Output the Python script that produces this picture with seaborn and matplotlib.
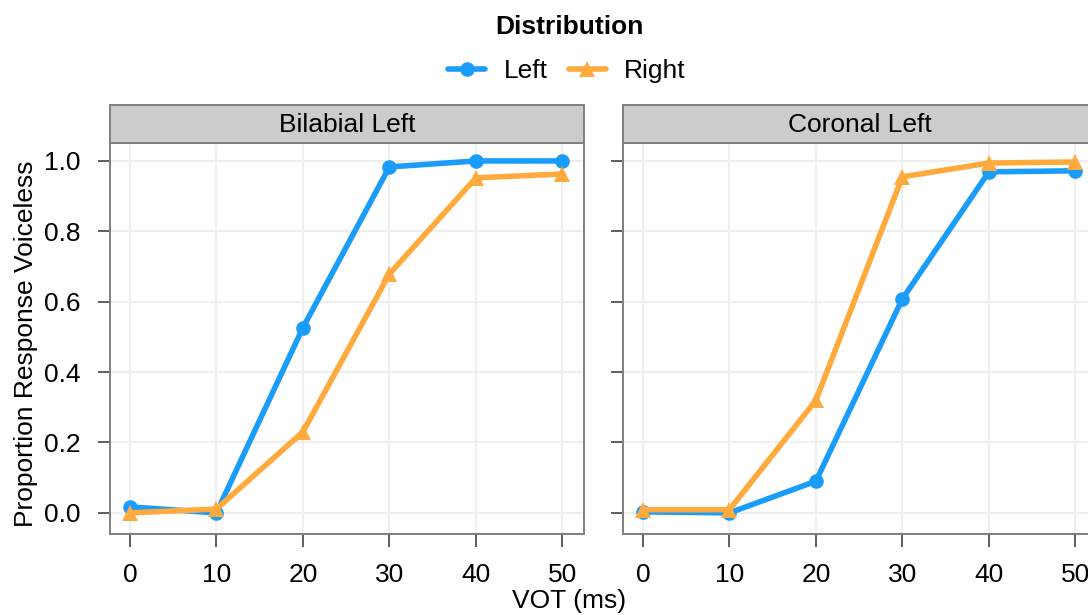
import matplotlib
matplotlib.use("Agg")
import matplotlib.pyplot as plt
import pandas as pd
import seaborn as sns

# values
vot = [0, 10, 20, 30, 40, 50]
panels = ["Bilabial Left", "Coronal Left"]
distributions = ["Left", "Right"]
bilabial_left = [0.017, 0.0, 0.526, 0.983, 1.0, 1.0]
bilabial_right = [0.0, 0.011, 0.23, 0.679, 0.952, 0.963]
coronal_left = [0.003, 0.0, 0.09, 0.608, 0.969, 0.972]
coronal_right = [0.009, 0.009, 0.32, 0.955, 0.994, 0.997]
y_ticks = [0.0, 0.2, 0.4, 0.6, 0.8, 1.0]

colors = {"Left": "#1A9CFB", "Right": "#FFAA3D"}
markers = {"Left": "o", "Right": "^"}
msizes = {"o": 10.5, "^": 12}

rows = []
for panel, series in zip(panels, [(bilabial_left, bilabial_right),
                                  (coronal_left, coronal_right)]):
    for dist, vals in zip(distributions, series):
        for x, y in zip(vot, vals):
            rows.append({"panel": panel, "Distribution": dist,
                         "VOT": x, "prop": y})
df = pd.DataFrame(rows)

sns.set_theme(style="white")
plt.rcParams["font.family"] = ["Liberation Sans", "DejaVu Sans"]
plt.rcParams["text.color"] = "black"
FS = 19
LW = 4.0

fig = plt.figure(figsize=(10.88, 6.15), dpi=100)
W, H = 1088, 615
ax_left = [110, 623]
ax_w, ax_top, ax_bot = 474, 143, 534
strip_top = 105

spine_col = "#7f7f7f"
for i, panel in enumerate(panels):
    ax = fig.add_axes([ax_left[i] / W, (H - ax_bot) / H,
                       ax_w / W, (ax_bot - ax_top) / H])
    sub = df[df["panel"] == panel]
    sns.lineplot(data=sub, x="VOT", y="prop", hue="Distribution",
                 style="Distribution", markers=markers, dashes=False,
                 palette=colors, hue_order=distributions,
                 style_order=distributions, linewidth=LW,
                 markersize=10.5, markeredgewidth=0, ax=ax, legend=False)
    # triangles look a bit larger than the dots in the reference
    for ln in ax.get_lines():
        m = ln.get_marker()
        if m in msizes:
            ln.set_markersize(msizes[m])
    ax.set_xlim(-2.3, 52.5)
    ax.set_ylim(-0.06, 1.051)
    ax.set_xticks(vot)
    ax.set_yticks(y_ticks)
    ax.set_xticklabels([str(v) for v in vot])
    if i == 0:
        ax.set_yticklabels([f"{v:.1f}" for v in y_ticks])
    else:
        ax.set_yticklabels([])
    ax.grid(True, color="#efefef", linewidth=1.6)
    ax.set_axisbelow(True)
    ax.set_xlabel("")
    ax.set_ylabel("")
    for s in ax.spines.values():
        s.set_color(spine_col)
        s.set_linewidth(1.4)
    ax.tick_params(axis="both", which="both", length=9, width=1.1,
                   color="#333333", pad=12, labelsize=FS,
                   labelcolor="black", bottom=True, left=True)

    strip = fig.add_axes([ax_left[i] / W, (H - ax_top) / H,
                          ax_w / W, (ax_top - strip_top) / H])
    strip.set_facecolor("#cccccc")
    strip.set_xticks([])
    strip.set_yticks([])
    for s in strip.spines.values():
        s.set_color(spine_col)
        s.set_linewidth(1.4)
    strip.text(0.5, 0.47, panel, ha="center", va="center",
               fontsize=FS, transform=strip.transAxes)

fig.text(569 / W, 1 - 601 / H, "VOT (ms)", ha="center", va="center",
         fontsize=FS)
fig.text(26 / W, 1 - 344 / H, "Proportion Response Voiceless",
         ha="center", va="center", rotation=90, fontsize=FS)

# legend
fig.text(569 / W, 1 - 27 / H, "Distribution", ha="center", va="center",
         fontsize=FS, fontweight="bold")
handles = [plt.Line2D([], [], color=colors[d], marker=markers[d],
                      linewidth=LW, markersize=msizes[markers[d]],
                      markeredgewidth=0)
           for d in distributions]
fig.legend(handles, distributions, loc="center",
           bbox_to_anchor=(567 / W, 1 - 71 / H), ncol=2, frameon=False,
           fontsize=FS, handlelength=1.4, handletextpad=0.7,
           columnspacing=0.8)

fig.savefig("out.png", dpi=100)
